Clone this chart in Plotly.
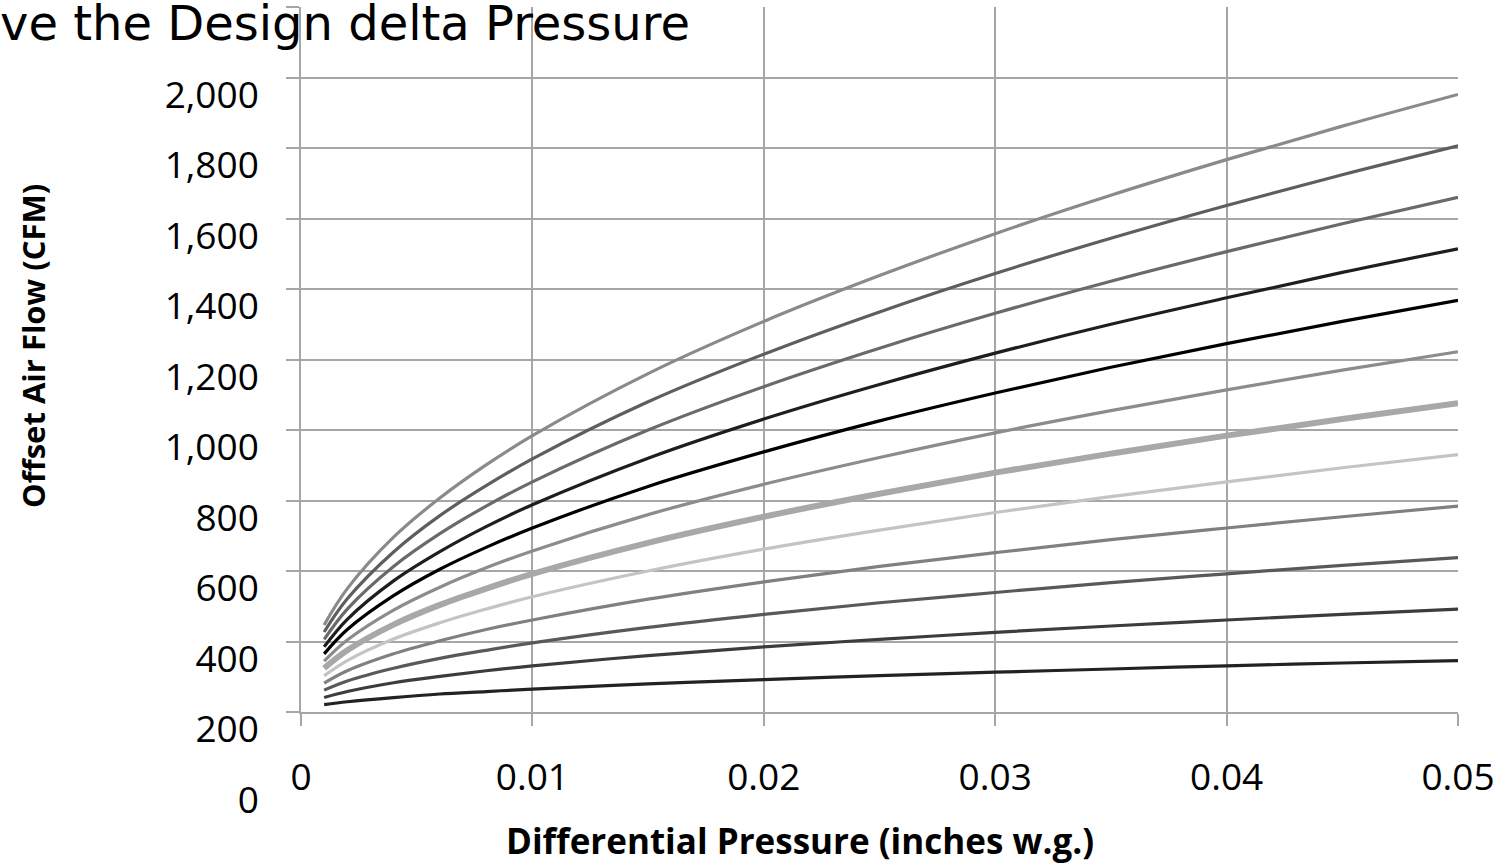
import plotly.graph_objects as go

# Differential pressure (inches w.g.)
pressure = [0.001, 0.002, 0.004, 0.006, 0.008, 0.01, 0.015, 0.02, 0.025,
            0.03, 0.035, 0.04, 0.045, 0.05]

# Offset air flow (CFM) curves, top to bottom
curve_12 = [247, 350, 496, 607, 701, 784, 960, 1108, 1238, 1357, 1466, 1567, 1662, 1752]
curve_11 = [227, 321, 454, 557, 642, 718, 880, 1015, 1135, 1244, 1344, 1437, 1524, 1606]
curve_10 = [206, 292, 413, 506, 584, 653, 800, 923, 1032, 1131, 1222, 1306, 1385, 1460]
curve_9 = [185, 263, 372, 455, 526, 588, 720, 831, 929, 1018, 1100, 1175, 1247, 1314]
curve_8 = [165, 234, 330, 405, 467, 522, 640, 738, 826, 905, 978, 1045, 1108, 1168]
curve_7 = [144, 204, 289, 354, 409, 457, 560, 646, 722, 792, 855, 914, 970, 1022]
curve_6 = [124, 175, 248, 304, 350, 392, 480, 554, 619, 679, 733, 784, 831, 876]
curve_5 = [103, 146, 207, 253, 292, 327, 400, 462, 516, 566, 611, 653, 693, 730]
curve_4 = [82, 117, 165, 202, 234, 261, 320, 369, 413, 452, 489, 522, 554, 584]
curve_3 = [62, 88, 124, 152, 175, 196, 240, 277, 310, 339, 367, 392, 416, 438]
curve_2 = [41, 58, 83, 101, 117, 131, 160, 185, 206, 226, 244, 261, 277, 292]
curve_1 = [21, 29, 41, 51, 58, 65, 80, 92, 103, 113, 122, 131, 139, 146]

curves = [curve_12, curve_11, curve_10, curve_9, curve_8, curve_7,
          curve_6, curve_5, curve_4, curve_3, curve_2, curve_1]
colors = ["#8a8a8a", "#5e5e5e", "#6a6a6a", "#1e1e1e", "#000000", "#8c8c8c",
          "#a8a8a8", "#c4c4c4", "#808080", "#595959", "#3c3c3c", "#222222"]
widths = [3.2, 3.2, 3.2, 3.2, 3.2, 3.2, 6, 3.2, 3.2, 3.2, 3.2, 3.2]

y_ticks = [0, 200, 400, 600, 800, 1000, 1200, 1400, 1600, 1800, 2000]
x_ticks = [0, 0.01, 0.02, 0.03, 0.04, 0.05]
x_labels = ["0", "0.01", "0.02", "0.03", "0.04", "0.05"]

title_text = "ve the Design delta Pressure"
x_title = "Differential Pressure (inches w.g.)"
y_title = "Offset Air Flow (CFM)"

W, H = 1502, 867
L, R, T, B = 301, 44, 7, 155
plot_w = W - L - R
plot_h = H - T - B


def px_x(px):
    return (px - L) / plot_w


def px_y(py):
    return (H - B - py) / plot_h


fig = go.Figure()
for ys, c, w in zip(curves, colors, widths):
    fig.add_trace(go.Scatter(x=pressure, y=ys, mode="lines",
                             line=dict(color=c, width=w, shape="spline", smoothing=1.0),
                             showlegend=False, hoverinfo="skip"))

grid = "#a6a6a6"
tick_font = dict(family="Open Sans", size=37, color="#000000")

fig.update_layout(
    width=W, height=H,
    margin=dict(l=L, r=R, t=T, b=B),
    paper_bgcolor="white", plot_bgcolor="white",
    showlegend=False,
    xaxis=dict(range=[0, 0.05], tickvals=x_ticks, ticktext=x_labels,
               showgrid=True, gridcolor=grid, gridwidth=1.5,
               showline=True, linecolor=grid, linewidth=1.5,
               ticks="outside", ticklen=12, tickcolor=grid, tickwidth=1.5,
               tickfont=tick_font, ticklabelstandoff=20,
               zeroline=False, automargin=False),
    yaxis=dict(range=[0, 2000], tickvals=y_ticks, tickformat=",",
               showgrid=True, gridcolor=grid, gridwidth=1.5,
               showline=True, linecolor=grid, linewidth=1.5,
               ticks="outside", ticklen=13, tickcolor=grid, tickwidth=1.5,
               tickfont=tick_font, ticklabelshift=88, ticklabelstandoff=20,
               zeroline=False, automargin=False),
    annotations=[
        dict(text=title_text, x=px_x(-2), y=px_y(23), xref="paper", yref="paper",
             showarrow=False, font=dict(family="DejaVu Sans", size=48, color="#000000"),
             xanchor="left", yanchor="middle"),
        dict(text="<b>" + x_title + "</b>", x=px_x(800), y=px_y(840),
             xref="paper", yref="paper", showarrow=False,
             font=dict(family="Open Sans", size=35, color="#000000"),
             xanchor="center", yanchor="middle"),
        dict(text="<b>" + y_title + "</b>", x=px_x(33), y=px_y(346),
             xref="paper", yref="paper", showarrow=False, textangle=-90,
             font=dict(family="Open Sans", size=31, color="#000000"),
             xanchor="center", yanchor="middle"),
    ],
)

fig.write_html("out.html",
               config={"displayModeBar": False},
               post_script="document.body.style.margin='0px';"
                           "document.body.style.overflow='hidden';")
